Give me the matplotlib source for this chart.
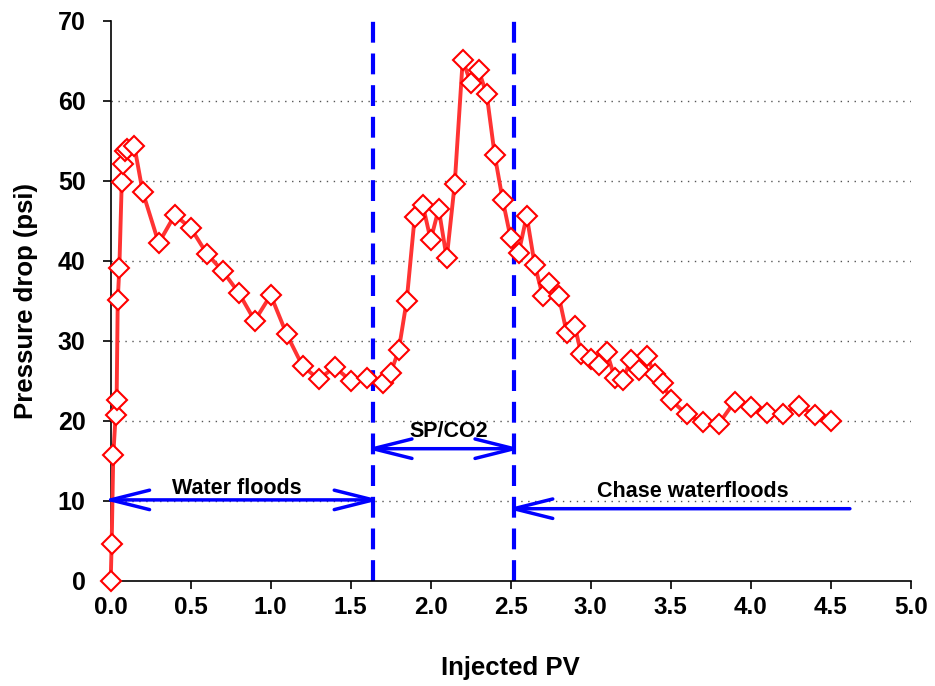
import matplotlib
matplotlib.use("Agg")
import matplotlib.pyplot as plt

plt.rcParams['font.family'] = ['Liberation Sans', 'DejaVu Sans']
plt.rcParams['font.weight'] = 'bold'

# injected PV and pressure drop
pv = [0.0, 0.006, 0.016, 0.031, 0.037, 0.044, 0.054, 0.069, 0.079, 0.088, 0.10,
      0.148, 0.2, 0.3, 0.4, 0.5, 0.6, 0.7, 0.8, 0.9, 1.0, 1.1, 1.2, 1.3, 1.4,
      1.5, 1.6, 1.7, 1.75, 1.8, 1.85, 1.9, 1.95, 2.0, 2.05, 2.1, 2.15, 2.2,
      2.25, 2.3, 2.35, 2.4, 2.45, 2.5, 2.55, 2.6, 2.65, 2.7, 2.74, 2.8, 2.85,
      2.9, 2.94, 3.0, 3.05, 3.1, 3.15, 3.2, 3.25, 3.3, 3.35, 3.4, 3.45, 3.5,
      3.6, 3.7, 3.8, 3.9, 4.0, 4.1, 4.2, 4.3, 4.4, 4.5]
dp = [0.0, 4.6, 15.7, 20.7, 22.6, 35.1, 39.1, 49.8, 52.1, 53.7, 54.0,
      54.3, 48.6, 42.2, 45.7, 44.1, 40.9, 38.7, 36.0, 32.5, 35.7, 30.8, 26.8, 25.2, 26.7,
      25.0, 25.3, 24.7, 26.0, 28.8, 35.0, 45.5, 47.0, 42.6, 46.5, 40.3, 49.6, 65.1,
      62.2, 63.8, 60.8, 53.2, 47.6, 42.8, 41.0, 45.6, 39.5, 35.6, 37.2, 35.6, 31.0,
      31.9, 28.4, 27.7, 27.0, 28.6, 25.4, 25.1, 27.6, 26.4, 28.1, 25.8, 24.7, 22.6,
      20.8, 19.8, 19.6, 22.4, 21.7, 21.0, 20.8, 21.9, 20.7, 20.0]

# stage boundaries (PV)
wf_end = 1.64
sp_end = 2.52
chase_end = 4.62

fig = plt.figure(figsize=(9.35, 6.86), dpi=100)
ax = fig.add_axes([0.1184, 0.1535, 0.8556, 0.8163])

for y in [10, 20, 30, 40, 50, 60]:
    ax.axhline(y, color='#555555', lw=1.0, ls=(0, (1, 4)), zorder=0)

ax.plot(pv, dp, color='#ff3333', lw=2.8, marker='D', ms=10.5,
        mfc='white', mec='red', mew=1.5, zorder=3, clip_on=False)

for xv in [wf_end, sp_end]:
    ax.plot([xv, xv], [0, 70], color='blue', lw=3.0, ls=(0, (5, 2.6)), zorder=2)

# the line-style arrow heads sit a little inside their end points, push them out
tip = 0.045
arrow = dict(arrowstyle='<->,head_length=28,head_width=7', mutation_scale=1,
             color='blue', lw=2.5, shrinkA=0, shrinkB=0)
ax.annotate('', xy=(0.0 - tip, 10.1), xytext=(wf_end + tip, 10.1),
            arrowprops=arrow, zorder=4, annotation_clip=False)
ax.annotate('', xy=(wf_end - tip, 16.5), xytext=(sp_end + tip, 16.5),
            arrowprops=arrow, zorder=4, annotation_clip=False)
arrow1 = dict(arrowstyle='->,head_length=28,head_width=7', mutation_scale=1,
              color='blue', lw=2.5, shrinkA=0, shrinkB=0)
ax.annotate('', xy=(sp_end - tip, 9.0), xytext=(chase_end, 9.0),
            arrowprops=arrow1, zorder=4, annotation_clip=False)

ax.text(0.79, 11.5, 'Water floods', ha='center', va='center', fontsize=15.5, fontweight='bold')
ax.text(2.11, 18.6, 'SP/CO2', ha='center', va='center', fontsize=15.5, fontweight='bold')
ax.text(3.64, 11.1, 'Chase waterfloods', ha='center', va='center', fontsize=15.5, fontweight='bold')

ax.set_xlim(0, 5)
ax.set_ylim(0, 70)
ax.set_xticks([0.0, 0.5, 1.0, 1.5, 2.0, 2.5, 3.0, 3.5, 4.0, 4.5, 5.0])
ax.set_xticklabels(['%.1f' % v for v in ax.get_xticks()])
ax.set_yticks(range(0, 71, 10))
ax.tick_params(axis='x', direction='out', length=6, width=1.2, labelsize=17.5, pad=5)
ax.tick_params(axis='y', direction='out', length=6, width=1.2, labelsize=18, pad=12)
for lab in ax.get_xticklabels() + ax.get_yticklabels():
    lab.set_fontweight('bold')
ax.spines['top'].set_visible(False)
ax.spines['right'].set_visible(False)
ax.spines['left'].set_linewidth(1.2)
ax.spines['bottom'].set_linewidth(1.2)
ax.set_xlabel('Injected PV', fontsize=18.5, fontweight='bold', labelpad=27)
ax.set_ylabel('Pressure drop (psi)', fontsize=18.5, fontweight='bold', labelpad=14)

fig.savefig('out.png', dpi=100)
plt.close()
